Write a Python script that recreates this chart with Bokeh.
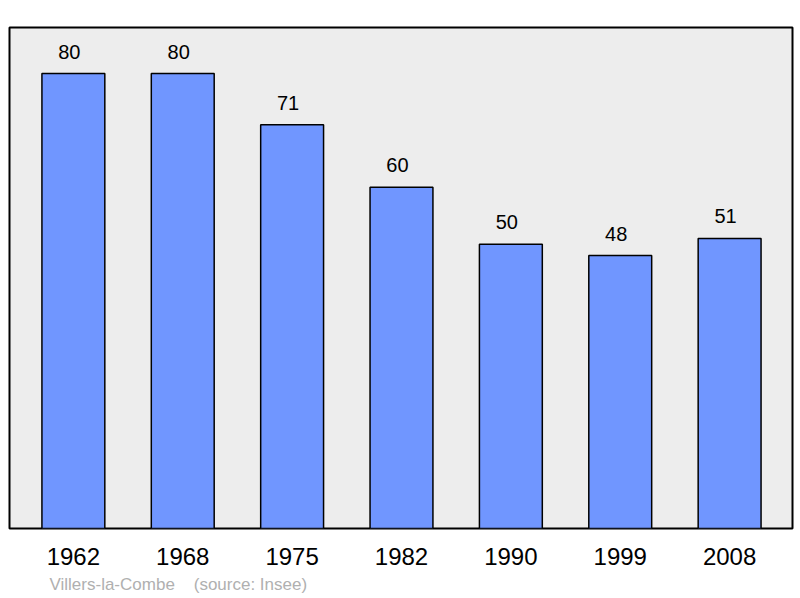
from bokeh.plotting import figure
from bokeh.models import Range1d, FixedTicker, Title
from bokeh.core.properties import value
from bokeh.embed import file_html
from bokeh.resources import INLINE

# data
years = ["1962", "1968", "1975", "1982", "1990", "1999", "2008"]
population = [80, 80, 71, 60, 50, 48, 51]
idx = list(range(len(years)))

FONT = "Liberation Sans"

p = figure(frame_width=783, frame_height=501, output_backend="svg",
           toolbar_location=None,
           x_range=Range1d(-0.584, 6.575), y_range=Range1d(0, 88.1),
           min_border_left=9, min_border_right=4, min_border_top=27,
           min_border_bottom=4)

p.background_fill_color = "#ededed"
p.border_fill_color = "white"
p.outline_line_color = "black"
p.outline_line_width = 2
p.grid.visible = False
p.yaxis.visible = False

# bars
p.vbar(x=idx, top=population, width=0.575, bottom=0,
       fill_color="#7096ff", line_color="black", line_width=1.5)

# value labels (sit a little left of the bar centre, as in the original)
p.text(x=idx, y=population, text=[str(v) for v in population],
       text_align="center", text_baseline="bottom", x_offset=-4, y_offset=-15,
       text_font=value(FONT), text_font_size="20px", text_color="black")

# x axis with year labels
p.xaxis.ticker = FixedTicker(ticks=idx)
p.xaxis.major_label_overrides = {i: y for i, y in zip(idx, years)}
p.xaxis.axis_line_color = None
p.xaxis.major_tick_line_color = None
p.xaxis.minor_tick_line_color = None
p.xaxis.major_label_standoff = 13
p.xaxis.major_label_text_font = FONT
p.xaxis.major_label_text_font_size = "24px"
p.xaxis.major_label_text_color = "black"

# caption
cap = Title(text="Villers-la-Combe\u00a0\u00a0\u00a0\u00a0(source: Insee)",
            align="left", offset=40, text_font=FONT, text_font_size="17px",
            text_font_style="normal", text_color="#b0b0b0")
p.add_layout(cap, "below")

open("out.html", "w").write(file_html(p, INLINE))
